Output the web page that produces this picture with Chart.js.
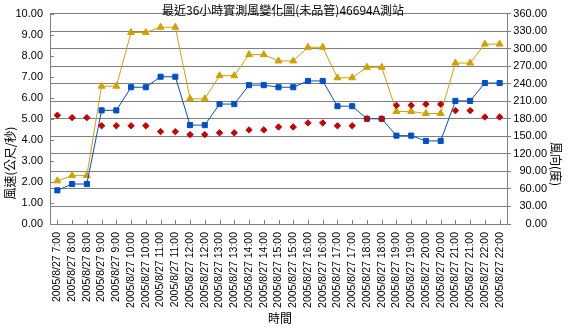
<!DOCTYPE html>
<html>
<head>
<meta charset="utf-8">
<title>46694A 測站風變化圖</title>
<script src="https://cdn.jsdelivr.net/npm/chart.js@4/dist/chart.umd.min.js"></script>
<style>
  html, body { margin: 0; padding: 0; background: #fff; }
  #wrap { width: 568px; height: 330px; }
</style>
</head>
<body>
<div id="wrap"><canvas id="windChart" width="568" height="330"></canvas></div>
<script>
// ---- data ----
const xLabels = [
  '2005/8/27 7:00', '2005/8/27 8:00', '2005/8/27 8:00', '2005/8/27 9:00', '2005/8/27 9:00',
  '2005/8/27 10:00', '2005/8/27 10:00', '2005/8/27 11:00', '2005/8/27 11:00', '2005/8/27 12:00',
  '2005/8/27 12:00', '2005/8/27 13:00', '2005/8/27 13:00', '2005/8/27 14:00', '2005/8/27 14:00',
  '2005/8/27 15:00', '2005/8/27 15:00', '2005/8/27 16:00', '2005/8/27 16:00', '2005/8/27 17:00',
  '2005/8/27 17:00', '2005/8/27 18:00', '2005/8/27 18:00', '2005/8/27 19:00', '2005/8/27 19:00',
  '2005/8/27 20:00', '2005/8/27 20:00', '2005/8/27 21:00', '2005/8/27 21:00', '2005/8/27 22:00',
  '2005/8/27 22:00'
];

// 風速 (m/s) - blue squares, left axis
const windSpeed = [
  1.6, 1.9, 1.9, 5.4, 5.4, 6.5, 6.5, 7.0, 7.0, 4.7,
  4.7, 5.7, 5.7, 6.6, 6.6, 6.5, 6.5, 6.8, 6.8, 5.6,
  5.6, 5.0, 5.0, 4.2, 4.2, 3.95, 3.95, 5.85, 5.85, 6.7,
  6.7
];

// 陣風 (m/s) - gold triangles, left axis
const windGust = [
  2.05, 2.3, 2.3, 6.55, 6.55, 9.1, 9.1, 9.35, 9.35, 5.95,
  5.95, 7.05, 7.05, 8.05, 8.05, 7.75, 7.75, 8.4, 8.4, 6.95,
  6.95, 7.45, 7.45, 5.35, 5.35, 5.25, 5.25, 7.65, 7.65, 8.55,
  8.55
];

// 風向 (度) - red diamonds, right axis
const windDir = [
  186, 182, 182, 168, 168, 168, 168, 158, 158, 153,
  153, 156, 156, 161, 161, 166, 166, 173, 173, 168,
  168, 180, 180, 203, 203, 205, 205, 194, 194, 183,
  183
];

const speedTicks = { min: 0, max: 10, step: 1 };
const dirTicks = { min: 0, max: 360, step: 30 };

const GRID = '#808080';

Chart.defaults.font.family = '"Liberation Sans", Arial, "Noto Sans CJK TC", sans-serif';
Chart.defaults.font.size = 11;
Chart.defaults.color = '#000';

// inside tick marks + titles (titles sit inside the plot, Excel style)
const decorPlugin = {
  id: 'decor',
  beforeDatasetsDraw(chart) {
    const ctx = chart.ctx;
    const ys = chart.scales.y;
    const xs = chart.scales.x;
    const area = chart.chartArea;
    ctx.save();
    ctx.strokeStyle = GRID;
    ctx.lineWidth = 1;
    ctx.beginPath();
    for (let v = speedTicks.min; v <= speedTicks.max; v += speedTicks.step) {
      const y = Math.round(ys.getPixelForValue(v)) + 0.5;
      ctx.moveTo(area.left, y);
      ctx.lineTo(area.left + 4, y);
    }
    xLabels.forEach((_, i) => {
      const x = Math.round(xs.getPixelForValue(i)) + 0.5;
      ctx.moveTo(x, area.bottom);
      ctx.lineTo(x, area.bottom - 4);
    });
    ctx.stroke();
    ctx.restore();
  },
  afterDraw(chart) {
    const ctx = chart.ctx;
    const cjk = '"Noto Sans CJK TC", "Noto Sans CJK SC", sans-serif';
    ctx.save();
    ctx.fillStyle = '#000';
    ctx.textBaseline = 'middle';
    ctx.textAlign = 'center';

    ctx.font = '12px ' + cjk;
    ctx.fillText('最近36小時實測風變化圖(未品管)46694A測站', 283, 10.5);

    ctx.fillText('時間', 280, 318);

    ctx.save();
    ctx.translate(10, 163);
    ctx.rotate(-Math.PI / 2);
    ctx.fillText('風速(公尺/秒)', 0, 0);
    ctx.restore();

    ctx.save();
    ctx.translate(556, 164);
    ctx.rotate(Math.PI / 2);
    ctx.fillText('風向(度)', 0, 0);
    ctx.restore();

    ctx.restore();
  }
};

const canvas = document.getElementById('windChart');

new Chart(canvas, {
  type: 'line',
  data: {
    labels: xLabels,
    datasets: [
      {
        label: '風向',
        data: windDir,
        yAxisID: 'y2',
        showLine: false,
        pointStyle: 'rectRot',
        pointRadius: 3.2,
        pointBackgroundColor: '#CC0000',
        pointBorderColor: '#CC0000',
        pointBorderWidth: 1,
        borderColor: '#CC0000',
        order: 0
      },
      {
        label: '風速',
        data: windSpeed,
        yAxisID: 'y',
        borderColor: '#0050C8',
        borderWidth: 1,
        pointStyle: 'rect',
        pointRadius: 3.6,
        pointBackgroundColor: '#0050C8',
        pointBorderColor: '#0050C8',
        pointBorderWidth: 1,
        tension: 0,
        fill: false,
        order: 1
      },
      {
        label: '陣風',
        data: windGust,
        yAxisID: 'y',
        borderColor: '#D4A000',
        borderWidth: 1,
        pointStyle: 'triangle',
        pointRadius: 4,
        pointBackgroundColor: '#D4A000',
        pointBorderColor: '#D4A000',
        pointBorderWidth: 1,
        tension: 0,
        fill: false,
        order: 2
      }
    ]
  },
  options: {
    responsive: false,
    animation: false,
    devicePixelRatio: 1,
    layout: { padding: { top: 3, right: 21, left: 0, bottom: 0 } },
    plugins: {
      legend: { display: false },
      tooltip: { enabled: false },
      title: { display: false }
    },
    scales: {
      x: {
        type: 'category',
        offset: true,
        grid: { drawOnChartArea: false, drawTicks: false },
        border: { color: GRID, width: 1 },
        ticks: {
          autoSkip: false,
          minRotation: 90,
          maxRotation: 90,
          padding: 8,
          font: { size: 10.5 }
        },
        afterFit(s) { s.height = 106; }
      },
      y: {
        position: 'left',
        min: speedTicks.min,
        max: speedTicks.max,
        grid: { drawOnChartArea: false, drawTicks: false },
        border: { color: GRID, width: 1 },
        ticks: {
          stepSize: speedTicks.step,
          padding: 7,
          callback: v => Number(v).toFixed(2)
        },
        afterFit(s) { s.width = 50; }
      },
      y2: {
        position: 'right',
        min: dirTicks.min,
        max: dirTicks.max,
        grid: { color: GRID, lineWidth: 1, drawTicks: true, tickLength: 4 },
        border: { color: GRID, width: 1 },
        ticks: {
          stepSize: dirTicks.step,
          crossAlign: 'far',
          padding: 4,
          callback: v => Number(v).toFixed(2)
        },
        afterFit(s) { s.width = 40; }
      }
    }
  },
  plugins: [decorPlugin]
});
</script>
</body>
</html>
